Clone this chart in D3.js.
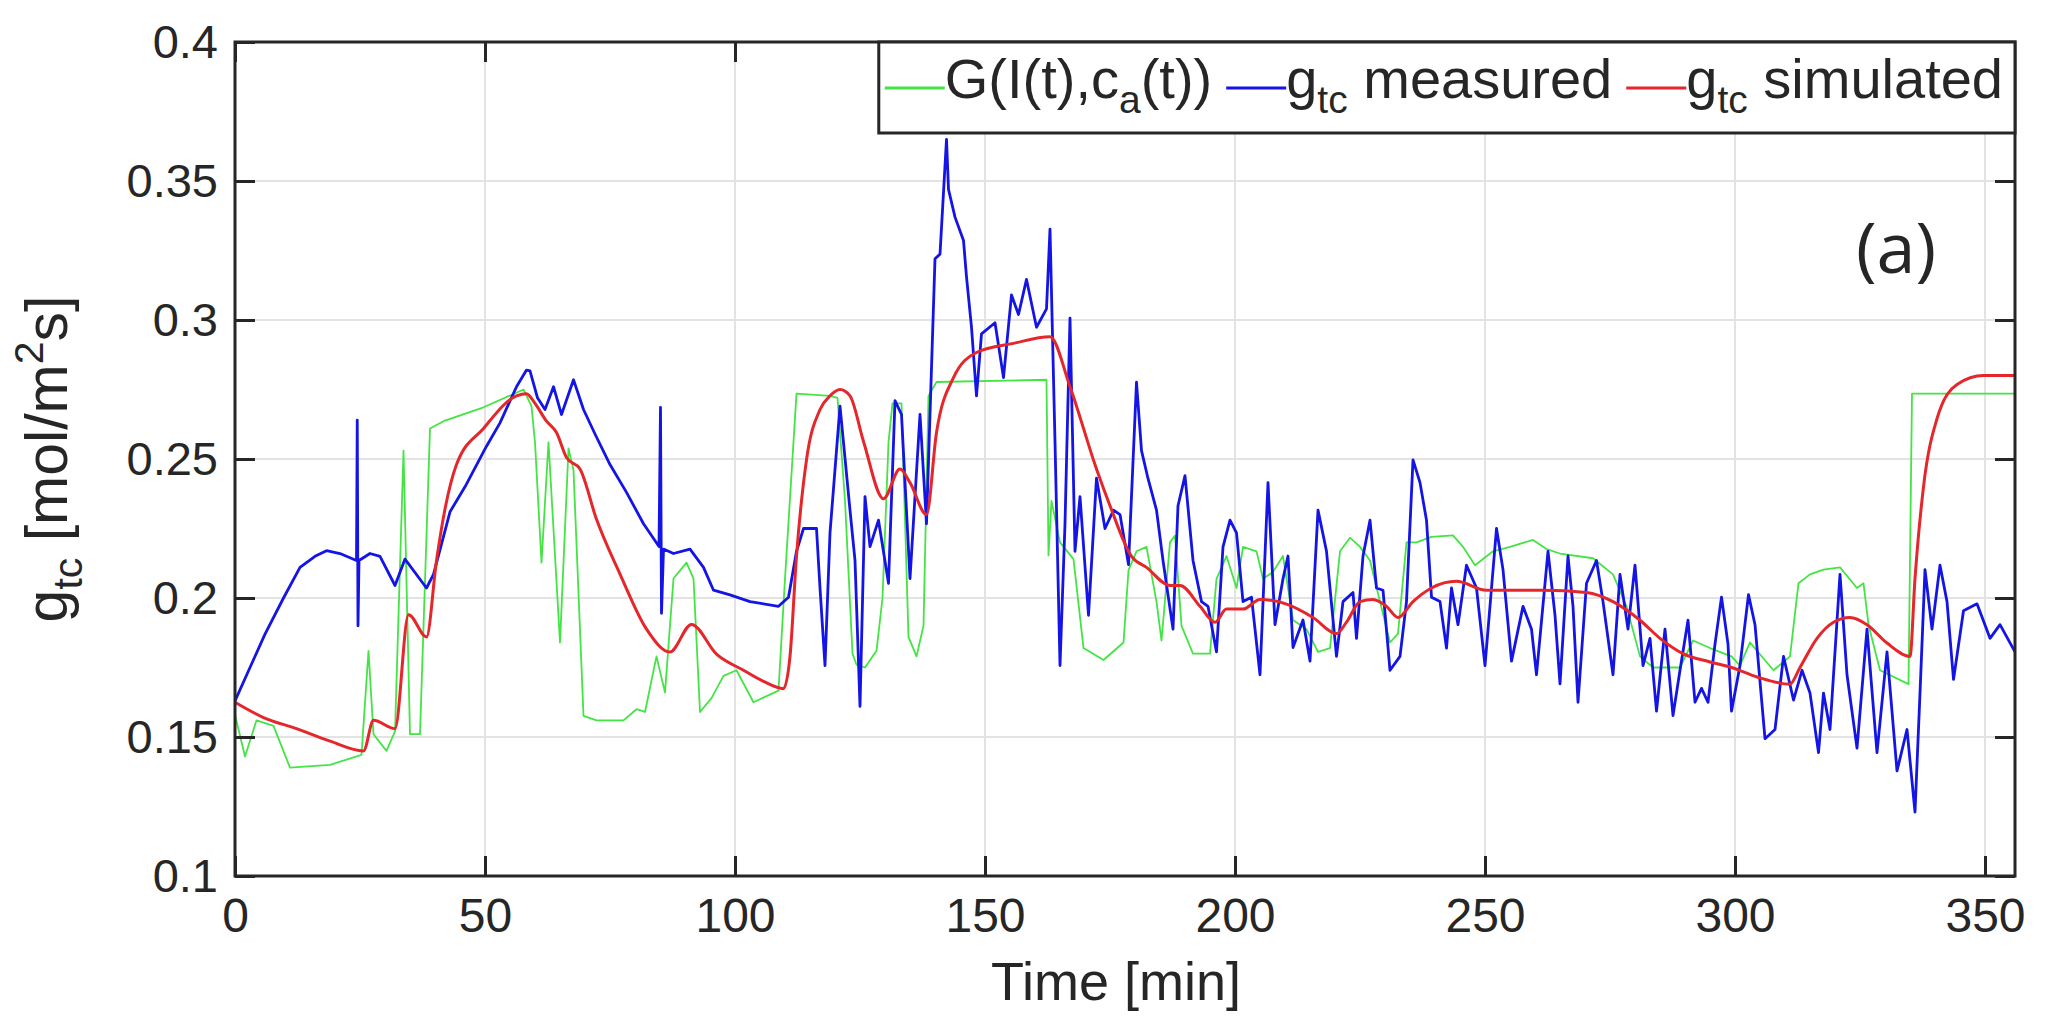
<!DOCTYPE html>
<html>
<head>
<meta charset="utf-8">
<title>g_tc measured vs simulated</title>
<script src="https://cdn.jsdelivr.net/npm/d3@7"></script>
<style>
  html, body { margin: 0; padding: 0; background: #fff; }
  svg text { font-family: "Liberation Sans", Arial, Helvetica, sans-serif; fill: #262626; }
</style>
</head>
<body>
<svg id="chart" width="2056" height="1021"></svg>
<script>
// time [min] / value pairs
var greenG = [
  [0,0.158],[2,0.143],[4.3,0.156],[7.7,0.154],[11,0.139],[19,0.140],[25.3,0.1436],[26.7,0.181],[27.7,0.151],
  [30.3,0.145],[32,0.152],[33.7,0.253],[35,0.151],[37,0.151],[39,0.261],[41.7,0.2636],[49.7,0.2686],[57.7,0.275],
  [59.3,0.269],[60,0.256],[61.3,0.2127],[62.7,0.256],[65,0.184],[66.7,0.2538],[67.7,0.246],[69.7,0.1576],
  [72.3,0.156],[77.7,0.156],[80.3,0.160],[82,0.159],[84.3,0.179],[86,0.166],[87.7,0.207],[90.3,0.2127],
  [91.7,0.207],[93,0.159],[95.3,0.164],[97.7,0.172],[100.3,0.174],[103.7,0.1625],[108.7,0.1667],[110,0.207],
  [112.3,0.2735],[119,0.2727],[120.5,0.272],[122,0.235],[123.5,0.18],[124.3,0.176],[126,0.175],[128.3,0.181],
  [129.5,0.2],[130.7,0.256],[131.5,0.27],[133.3,0.27],[134.7,0.186],[136.3,0.179],[137.7,0.19],[138.7,0.2727],
  [140.3,0.2777],[162.3,0.2785],[162.7,0.2153],[163.3,0.2349],[165,0.22],[167.7,0.214],[169.7,0.182],
  [173.7,0.1777],[177.7,0.184],[178.7,0.210],[180.3,0.2168],[182.3,0.2184],[184.3,0.1987],[185.3,0.1847],
  [187,0.22],[188,0.2225],[189.3,0.190],[191.6,0.180],[195,0.180],[196.3,0.2069],[198.3,0.2151],[200.3,0.2036],
  [201.6,0.2184],[204.3,0.2168],[205.6,0.2069],[207.6,0.2094],[209.6,0.2151],[211.6,0.1921],[214.3,0.1888],
  [216.6,0.1806],[219,0.182],[221,0.2168],[223,0.2217],[225,0.2184],[227,0.2135],[229,0.1987],[231,0.184],
  [232.6,0.1872],[234.3,0.22],[236.3,0.22],[239.3,0.222],[243.6,0.2225],[245.6,0.2184],[248,0.2118],
  [251.6,0.2168],[255,0.2184],[259.6,0.2209],[262.3,0.2176],[265,0.216],[271.6,0.2143],[275.6,0.2085],
  [278.3,0.197],[281,0.179],[283.6,0.175],[289,0.175],[291.6,0.1847],[295,0.182],[299.3,0.179],[301,0.1757],
  [303,0.184],[307.7,0.174],[311,0.179],[312.7,0.2053],[315,0.2085],[317.7,0.2102],[321,0.211],[324.4,0.2036],
  [325.7,0.2053],[326.7,0.1904],[329,0.174],[334.7,0.169],[335.4,0.2735],[356,0.2735]
];

var blueMeasured = [
  [0,0.163],[3,0.175],[6,0.187],[9.7,0.200],[13,0.211],[16,0.215],[18.3,0.217],[21,0.216],[24.3,0.2135],
  [24.45,0.264],[24.6,0.190],[24.8,0.2135],[27,0.216],[29,0.215],[32,0.2045],[34,0.214],[38.3,0.2036],
  [39.7,0.2085],[43,0.231],[46,0.240],[50.3,0.2546],[53,0.263],[56.3,0.276],[58.3,0.282],[59,0.2817],
  [60.5,0.272],[62,0.2678],[63.7,0.276],[65.3,0.266],[67.7,0.2785],[69.7,0.2678],[72,0.259],[75,0.248],
  [78.3,0.238],[81.7,0.2267],[84.8,0.2185],[85.1,0.2686],[85.3,0.1945],[85.7,0.2176],[87.7,0.216],[91,0.2176],
  [93.7,0.211],[95.7,0.2028],[99,0.2011],[103,0.1987],[108.7,0.197],[110.7,0.2003],[112.3,0.2168],
  [113.7,0.225],[116.3,0.225],[117,0.2036],[118,0.1757],[119,0.2234],[121,0.269],[123,0.2316],[124,0.2135],
  [125,0.161],[126,0.2365],[127,0.2185],[128.7,0.228],[130.7,0.2053],[132,0.271],[133.3,0.266],[135,0.207],
  [137,0.266],[138.3,0.2267],[140,0.322],[141,0.3237],[142.3,0.365],[142.7,0.347],[144,0.337],[145.7,0.3286],
  [146.3,0.3155],[147.3,0.2974],[148.3,0.2727],[149.3,0.295],[152,0.299],[153.7,0.2793],[155.3,0.309],
  [156.7,0.302],[158.3,0.3146],[160.3,0.2974],[162.3,0.304],[163,0.3327],[164,0.2563],[165,0.1757],
  [166,0.2267],[167,0.3007],[168,0.2168],[169,0.2365],[170.7,0.1938],[172.3,0.2431],[174,0.225],
  [175.7,0.2316],[177,0.23],[178.7,0.212],[180.3,0.2776],[181.3,0.253],[182.6,0.243],[184.3,0.2316],
  [185.6,0.2135],[187.6,0.1888],[188.6,0.2332],[190,0.244],[191.6,0.2135],[193.3,0.1987],[194.6,0.197],
  [196.3,0.1806],[197.6,0.2184],[199,0.228],[200.3,0.2234],[201.6,0.1987],[203.3,0.2003],[205,0.1724],
  [206.6,0.2415],[208,0.1904],[209.6,0.2069],[210.6,0.2151],[211.6,0.1822],[213.6,0.1921],[215,0.1773],
  [216.6,0.2316],[218.3,0.2168],[220.3,0.179],[221.6,0.1987],[223.6,0.202],[224.3,0.1855],[225.6,0.2151],
  [227,0.228],[228.3,0.2036],[229.6,0.2028],[231,0.174],[233,0.179],[234.3,0.1987],[235.6,0.2497],
  [237,0.2415],[238.3,0.228],[239.3,0.2003],[241,0.1987],[242.3,0.182],[243.3,0.2036],[244.6,0.1904],
  [246.3,0.2118],[248.3,0.2036],[250,0.1757],[252.3,0.225],[253.6,0.2102],[255.3,0.1773],[257.6,0.197],
  [259.3,0.1888],[260.3,0.1724],[262.6,0.2168],[264,0.1938],[265,0.1691],[266.6,0.2151],[267.6,0.197],
  [268.6,0.1625],[270.3,0.2053],[272.3,0.2135],[273.6,0.1987],[275.6,0.1724],[277,0.2085],[278.6,0.1888],
  [280,0.2118],[281.6,0.1757],[283,0.1855],[284.3,0.1593],[286,0.1888],[287.6,0.1577],[289,0.174],
  [290.6,0.192],[292,0.1625],[293.3,0.1675],[294.6,0.1625],[296,0.1834],[297.3,0.2003],[298.6,0.1834],
  [299.3,0.1593],[301,0.1757],[302.7,0.2012],[304,0.1904],[306,0.1494],[308,0.1527],[309.7,0.179],
  [311.7,0.1633],[313.4,0.174],[315,0.1658],[316.7,0.1444],[317.7,0.1658],[319,0.1527],[321,0.2085],
  [322.4,0.1724],[324.4,0.146],[326.4,0.1888],[328.4,0.1444],[330.4,0.1806],[332.4,0.1378],[334.4,0.1527],
  [336,0.123],[337,0.1658],[338,0.2102],[339.4,0.1888],[341,0.2118],[342.4,0.1987],[343.7,0.1707],
  [345.7,0.1954],[348.4,0.1979],[351,0.1855],[353,0.1904],[356,0.1806]
];

var redSimulated = [
  [0,0.1625],[5.7,0.157],[12.3,0.153],[19,0.1485],[25.7,0.145],[27.7,0.156],[32,0.153],[34.7,0.194],
  [38.3,0.186],[40.3,0.2135],[42,0.232],[44.3,0.248],[49.7,0.261],[56.3,0.2727],[58.3,0.2735],[60,0.27],
  [62.3,0.2636],[64.3,0.2595],[66.3,0.2505],[69,0.2464],[72.3,0.2283],[77,0.2086],[82.3,0.1888],[87,0.1806],
  [91.3,0.1905],[96.3,0.1798],[101.7,0.174],[105.7,0.170],[109.7,0.1674],[111,0.179],[112.3,0.215],
  [114.3,0.2497],[117,0.2678],[119,0.2727],[121,0.275],[123,0.2727],[125.7,0.2563],[129.7,0.2357],
  [133,0.2464],[135,0.2415],[138.3,0.23],[140.3,0.2595],[143.7,0.2793],[148.3,0.2883],[155.7,0.2916],
  [163,0.294],[167,0.276],[172.3,0.2464],[175,0.2332],[179.3,0.215],[182.3,0.211],[187,0.2045],[189,0.2045],
  [193,0.197],[196,0.1913],[198.3,0.196],[201.6,0.196],[205,0.1995],[210.3,0.1978],[215.6,0.193],
  [220.3,0.1872],[222.3,0.1913],[225,0.1987],[227.6,0.1995],[230.3,0.197],[232.6,0.193],[235.6,0.1987],
  [239.3,0.2036],[244.3,0.206],[250.3,0.2028],[261.6,0.2028],[270.3,0.202],[275.6,0.1987],[281,0.192],
  [285,0.1855],[289.6,0.180],[295,0.177],[299.3,0.175],[304.4,0.1716],[311,0.169],[313,0.175],[316.4,0.1855],
  [319.7,0.1913],[323,0.193],[326.4,0.1904],[330.4,0.1838],[335,0.179],[336,0.207],[337.7,0.24],
  [340.4,0.2645],[344.4,0.2768],[349.7,0.280],[356,0.280]
];

var xTicks = [0, 50, 100, 150, 200, 250, 300, 350];
var yTicks = [0.1, 0.15, 0.2, 0.25, 0.3, 0.35, 0.4];
var yTickLabels = ["0.1", "0.15", "0.2", "0.25", "0.3", "0.35", "0.4"];

(function() {
  var pL = 235, pT = 42, pR = 2015, pB = 876;
  var ink = "#262626";

  var svg = d3.select("#chart");

  var x = d3.scaleLinear().domain([0, 356]).range([pL, pR]);
  var y = d3.scaleLinear().domain([0.1, 0.4]).range([pB, pT]);

  // grid
  var grid = svg.append("g").attr("stroke", "#e3e3e3").attr("stroke-width", 2);
  grid.selectAll("line.gx").data(xTicks).enter().append("line")
      .attr("x1", function(d) { return x(d); }).attr("x2", function(d) { return x(d); })
      .attr("y1", pT).attr("y2", pB);
  grid.selectAll("line.gy").data(yTicks).enter().append("line")
      .attr("x1", pL).attr("x2", pR)
      .attr("y1", function(d) { return y(d); }).attr("y2", function(d) { return y(d); });

  // series
  var line = d3.line()
      .x(function(d) { return x(d[0]); })
      .y(function(d) { return y(d[1]); });

  var series = [
    {data: greenG, color: "#45e445", width: 1.8, curve: d3.curveLinear},
    {data: blueMeasured, color: "#1414e6", width: 2.8, curve: d3.curveLinear},
    {data: redSimulated, color: "#e5262b", width: 3, curve: d3.curveMonotoneX}
  ];

  svg.append("g").selectAll("path").data(series).enter().append("path")
      .attr("d", function(s) { return line.curve(s.curve)(s.data); })
      .attr("fill", "none")
      .attr("stroke", function(s) { return s.color; })
      .attr("stroke-width", function(s) { return s.width; })
      .attr("stroke-linejoin", "round");

  // axes, ticks pointing inward on all four sides
  var tk = 20;
  var xa = svg.append("g").attr("transform", "translate(0," + pB + ")")
      .call(d3.axisBottom(x).tickValues(xTicks).tickSize(-tk).tickSizeOuter(0).tickPadding(22));
  var ya = svg.append("g").attr("transform", "translate(" + pL + ",0)")
      .call(d3.axisLeft(y).tickValues(yTicks).tickSize(-tk).tickSizeOuter(0).tickPadding(17)
        .tickFormat(function(d, i) { return yTickLabels[i]; }));
  svg.append("g").attr("transform", "translate(0," + pT + ")")
      .call(d3.axisTop(x).tickValues(xTicks).tickSize(-tk).tickSizeOuter(0).tickFormat(""));
  svg.append("g").attr("transform", "translate(" + pR + ",0)")
      .call(d3.axisRight(y).tickValues(yTicks).tickSize(-tk).tickSizeOuter(0).tickFormat(""));

  svg.selectAll(".tick line").attr("stroke", ink).attr("stroke-width", 3);
  svg.selectAll(".domain").attr("stroke", "none");
  svg.selectAll(".tick text").attr("fill", ink)
      .style("font-family", "'Liberation Sans', Arial, sans-serif");
  xa.selectAll(".tick text").attr("font-size", 48);
  ya.selectAll(".tick text").attr("font-size", 47);

  svg.append("rect")
      .attr("x", pL).attr("y", pT)
      .attr("width", pR - pL).attr("height", pB - pT)
      .attr("fill", "none").attr("stroke", ink).attr("stroke-width", 3);

  // axis labels
  svg.append("text")
      .attr("x", 1116).attr("y", 1000)
      .attr("text-anchor", "middle").attr("font-size", 54)
      .text("Time [min]");

  var yl = svg.append("text")
      .attr("transform", "translate(67," + ((pT + pB) / 2) + ") rotate(-90)")
      .attr("text-anchor", "middle").attr("font-size", 59);
  yl.append("tspan").text("g");
  yl.append("tspan").attr("font-size", 41).attr("dy", 15).text("tc");
  yl.append("tspan").attr("dy", -15).text(" [mol/m");
  yl.append("tspan").attr("font-size", 41).attr("dy", -24).text("2");
  yl.append("tspan").attr("dy", 24).text("s]");

  svg.append("text")
      .attr("x", 1896).attr("y", 273)
      .attr("text-anchor", "middle").attr("font-size", 70)
      .style("font-family", "'Open Sans', 'Liberation Sans', sans-serif")
      .text("(a)");

  // legend
  var legendItems = [
    {color: "#45e445", parts: [["G(I(t),c", 0], ["a", 1], ["(t))", 0]]},
    {color: "#1414e6", parts: [["g", 0], ["tc", 1], [" measured", 0]]},
    {color: "#e5262b", parts: [["g", 0], ["tc", 1], [" simulated", 0]]}
  ];

  var lg = svg.append("g");
  var box = lg.append("rect").attr("fill", "#fff").attr("stroke", ink).attr("stroke-width", 3);
  var cx = 0;
  legendItems.forEach(function(item) {
    lg.append("line")
        .attr("x1", cx + 6).attr("x2", cx + 66)
        .attr("y1", 46).attr("y2", 46)
        .attr("stroke", item.color).attr("stroke-width", 3);
    var t = lg.append("text").attr("x", cx + 66).attr("y", 56).attr("font-size", 56);
    var sub = 0;
    item.parts.forEach(function(p) {
      var ts = t.append("tspan").text(p[0]);
      if (p[1] && !sub) { ts.attr("font-size", 39).attr("dy", 15); sub = 1; }
      else if (!p[1] && sub) { ts.attr("dy", -15); sub = 0; }
    });
    cx += 66 + t.node().getComputedTextLength() + 8;
  });
  var lw = cx + 4;
  box.attr("x", 0).attr("y", 0).attr("width", lw).attr("height", 91);
  lg.attr("transform", "translate(" + (pR - lw) + "," + pT + ")");
})();
</script>
</body>
</html>
